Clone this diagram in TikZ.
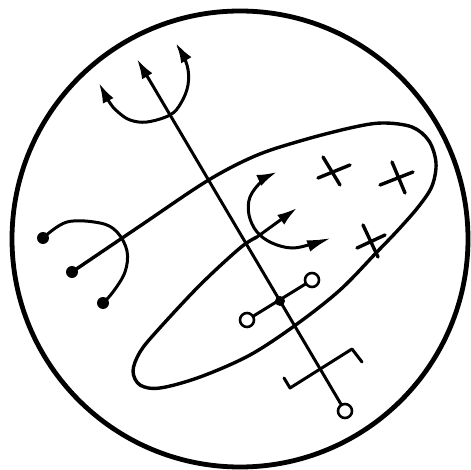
\documentclass[tikz,border=0pt]{standalone}
\usetikzlibrary{arrows.meta}

\begin{document}
\begin{tikzpicture}[
    x=0.5pt, y=-0.5pt,
    cellwall/.style={line width=2.4pt},
    membrane/.style={line width=1.7pt, line join=round},
    stem/.style={line width=1.5pt, line cap=round},
    tip/.style={-{Latex[length=10pt, width=6pt]}},
    dot/.style={circle, fill, inner sep=0pt, minimum size=6pt},
    ring/.style={circle, draw, line width=1.3pt, fill=white, inner sep=0pt, minimum size=7pt}
  ]
    \useasboundingbox (0,0) rectangle (471,470);

    % cell outline
    \draw[cellwall] (240,239) circle[radius=228];

    % left hook
    \node[dot] (dl1) at (43,238) {};
    \node[dot] (dl2) at (72,272) {};
    \node[dot] (dl3) at (103,303) {};
    \draw[stem] plot[smooth, tension=0.6] coordinates {(dl1) (67,222) (100,223) (117,232) (127,251) (125,272) (113,292) (dl3)};

    % membrane, running on from the left hook
    \coordinate (mend) at (257,237);
    \draw[membrane] plot[smooth, tension=0.55] coordinates {(dl2) (140,226) (207,181) (255,156) (300,141) (350,128) (382,123) (412,127) (429,141) (436,163) (432,186) (419,206) (399,229) (376,253) (340,290) (297,324) (250,355) (200,377) (160,388) (140,385) (133,371) (140,352) (157,331) (200,285) (240,248) (mend)};

    % inner hook
    \coordinate (im) at (297,208);
    \coordinate (it) at (277,172);
    \coordinate (ib) at (331,238);
    \draw[stem, tip] (mend) -- (im);
    \draw[stem, {Latex[length=10pt, width=6pt]}-{Latex[length=12pt, width=6pt]}] plot[smooth, tension=0.6] coordinates {(it) (262,181) (250,197) (249,215) (257,232) (272,243) (292,248) (312,244) (ib)};

    % long axis with trident
    \coordinate (tl) at (99,83);
    \coordinate (tm) at (137,59);
    \coordinate (tr) at (176,43);
    \node[ring] (rb) at (345,411) {};
    \draw[stem, tip] (rb) -- (tm);
    \draw[stem, {Latex[length=10pt, width=6pt]}-{Latex[length=10pt, width=6pt]}] plot[smooth, tension=0.6] coordinates {(tl) (110,103) (118,112) (130,120) (147,122) (170,115) (181,103) (188,85) (187,65) (tr)};

    % bar with rings
    \node[ring] (rl) at (247,320) {};
    \node[ring] (rr) at (312,280) {};
    \draw[stem] (rl) -- (rr);
    \node[dot, minimum size=5pt] (rc) at (280,301) {};

    % bar with bent ends
    \draw[stem, line join=round] (284,378) -- (290,388) -- (352,349) -- (362,362);

    % crosses
    \draw[stem, line width=1.7pt] (323,157) -- (340,185) (318,178) -- (350,165);
    \draw[stem, line width=1.7pt] (392,162) -- (405,193) (380,185) -- (413,172);
    \draw[stem, line width=1.7pt] (363,225) -- (378,257) (357,248) -- (385,235);
\end{tikzpicture}
\end{document}
